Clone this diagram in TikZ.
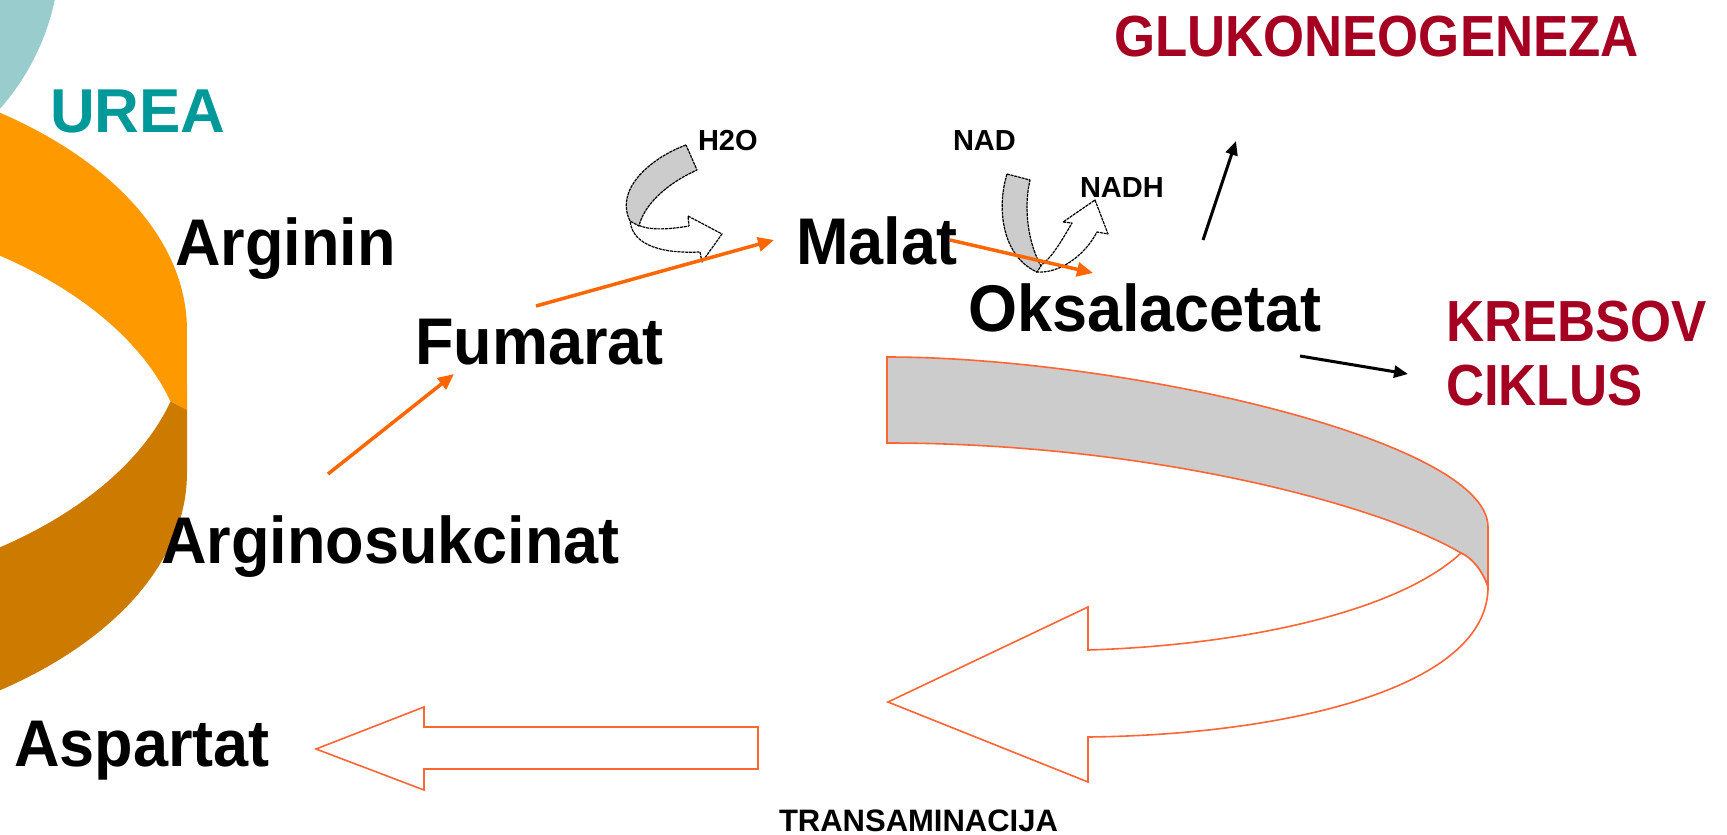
\documentclass[tikz,border=0pt]{standalone}
\usepackage{graphicx}
\usepackage{fontspec}
\setmainfont{Liberation Sans}
\usetikzlibrary{arrows.meta}
\definecolor{tealC}{HTML}{99CCCC}
\definecolor{tealT}{HTML}{009999}
\definecolor{orL}{HTML}{FF9900}
\definecolor{orD}{HTML}{CC7A00}
\definecolor{orA}{HTML}{FF6600}
\definecolor{orO}{HTML}{FF6633}
\definecolor{dred}{HTML}{A50021}
\definecolor{greyF}{HTML}{CCCCCC}
\newcommand{\mtext}[1]{\scalebox{0.955}[1]{\bfseries\fontsize{66}{70}\selectfont #1}}
\newcommand{\rtext}[1]{\scalebox{0.91}[1]{\bfseries\fontsize{58}{62}\selectfont #1}}
\tikzset{
  lab/.style={inner sep=0pt, outer sep=0pt, anchor=base west},
  oarr/.style={draw=orA, line width=3.5pt, -{Triangle[length=16pt,width=14pt]}},
  barr/.style={draw=black, line width=3pt, -{Triangle[length=14pt,width=12pt]}},
  smallarr/.style={draw=black, line width=1.2pt, dash pattern=on 3pt off 0.8pt, line join=round},
  bigarr/.style={draw=orO, line width=1.6pt, line join=miter}
}
\begin{document}
\begin{tikzpicture}[x=1pt,y=-1pt]
\useasboundingbox (0,0) rectangle (1727,835);
\clip (0,0) rectangle (1727,835);
\fill[white] (0,0) rectangle (1727,835);
% teal circle
\fill[tealC] (-180,-50) circle[radius=240];
% orange ring
\fill[orL] plot[domain=-75:0,samples=60,variable=\t] ({-273+460*cos(\t)},{330+270*sin(\t)})
  -- (187,410) -- (170.5,401.5)
  -- plot[domain=-15.4:-75,samples=60,variable=\t] ({-273+460*cos(\t)},{473+270*sin(\t)}) -- cycle;
\fill[orD] (170.5,401.5) -- (187,410) -- (187,473)
  -- plot[domain=0:75,samples=60,variable=\t] ({-273+460*cos(\t)},{473+270*sin(\t)})
  -- plot[domain=75:15.4,samples=60,variable=\t] ({-273+460*cos(\t)},{330+270*sin(\t)}) -- cycle;
% big curved arrow: grey band
\filldraw[fill=greyF,bigarr] (887,357) .. controls (1120,357) and (1488,440) .. (1488,527)
  -- (1488,587) .. controls (1482,570) and (1472,558) .. (1461,553)
  .. controls (1380,505) and (1150,443) .. (887,443) -- cycle;
% big curved arrow: white arrow
\filldraw[fill=white,bigarr] (1461,553) .. controls (1400,610) and (1250,645) .. (1088,650)
  -- (1088,607) -- (888,702) -- (1088,782) -- (1088,737)
  .. controls (1280,735) and (1488,690) .. (1488,587)
  .. controls (1482,570) and (1472,558) .. (1461,553) -- cycle;
% straight block arrow
\filldraw[fill=white,bigarr] (758,727) -- (424,727) -- (424,707) -- (316,749) -- (424,790) -- (424,769) -- (758,769) -- cycle;
% H2O curved arrow
\filldraw[fill=white,smallarr] (630,218) .. controls (630,242) and (655,254) .. (700,252) -- (702,262) -- (722,234) -- (688,216) -- (689,226) .. controls (666,230) and (648,230) .. (638,225) -- cycle;
\filldraw[fill=greyF,smallarr] (686,145) .. controls (653,157) and (614,188) .. (630,221) -- (639,226) .. controls (644,205) and (666,184) .. (697,170) -- cycle;
% NAD curved arrow
\filldraw[fill=white,smallarr] (1036,272) .. controls (1060,274) and (1085,255) .. (1097,232) -- (1108,234) -- (1095,200) -- (1063,222) -- (1072,223) .. controls (1062,240) and (1052,258) .. (1040,266) -- cycle;
\filldraw[fill=greyF,smallarr] (1007,174) .. controls (996,210) and (1003,257) .. (1037,272) -- (1041,266) .. controls (1029,245) and (1023,210) .. (1030,180) -- cycle;
% text
\node[lab,text=tealT] (urea) at (50,132) {\bfseries\fontsize{62}{66}\selectfont UREA};
\node[lab] (arg) at (175,265) {\mtext{Arginin}};
\node[lab] (fum) at (415,364) {\mtext{Fumarat}};
\node[lab] (mal) at (796,264) {\mtext{Malat}};
\node[lab] (oks) at (968,331) {\mtext{Oksalacetat}};
\node[lab] (asuc) at (161,563) {\mtext{Arginosukcinat}};
\node[lab] (asp) at (14,766) {\mtext{Aspartat}};
\node[lab,text=dred] (glu) at (1114,56) {\rtext{GLUKONEOGENEZA}};
\node[lab,text=dred] (kreb) at (1446,341) {\rtext{KREBSOV}};
\node[lab,text=dred] (cik) at (1446,405) {\rtext{CIKLUS}};
\node[lab] (h2o) at (698,150) {\bfseries\fontsize{29}{32}\selectfont H2O};
\node[lab] (nad) at (953,150) {\bfseries\fontsize{29}{32}\selectfont NAD};
\node[lab] (nadh) at (1080,197) {\bfseries\fontsize{29}{32}\selectfont NADH};
\node[lab] (trans) at (779,831) {\bfseries\fontsize{31}{34}\selectfont TRANSAMINACIJA};
% connectors
\coordinate (a1s) at (328,474); \coordinate (a1e) at (454,374);
\coordinate (a2s) at (536,306); \coordinate (a2e) at (774,240);
\coordinate (a3s) at (950,240); \coordinate (a3e) at (1093,273);
\coordinate (b1s) at (1203,240); \coordinate (b1e) at (1236,141);
\coordinate (b2s) at (1300,356); \coordinate (b2e) at (1408,374);
\draw[oarr] (a1s) -- (a1e);
\draw[oarr] (a2s) -- (a2e);
\draw[oarr] (a3s) -- (a3e);
\draw[barr] (b1s) -- (b1e);
\draw[barr] (b2s) -- (b2e);
\end{tikzpicture}
\end{document}
